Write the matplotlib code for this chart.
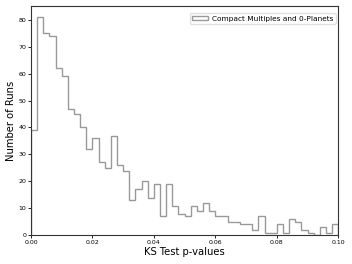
import matplotlib
matplotlib.use("Agg")
import matplotlib.pyplot as plt
import numpy as np

# histogram counts, 50 bins of width 0.002 on [0, 0.1]
bin_edges = np.linspace(0.0, 0.1, 51)
counts = [39, 81, 75, 74, 62, 59, 47, 45, 40, 32,
          36, 27, 25, 37, 26, 24, 13, 17, 20, 14,
          19, 7, 19, 11, 8, 7, 11, 9, 12, 9,
          7, 7, 5, 5, 4, 4, 2, 7, 1, 1,
          4, 1, 6, 5, 2, 1, 0, 3, 1, 4]
label = "Compact Multiples and 0-Planets"

fig = plt.figure(figsize=(3.52, 2.64), dpi=100)
ax = fig.add_axes([0.088, 0.109, 0.873, 0.868])

centers = (bin_edges[:-1] + bin_edges[1:]) / 2
ax.hist(centers, bins=bin_edges, weights=counts, histtype='step',
        color='0.6', linewidth=1.0, label=label)

ax.set_xlim(0, 0.1)
ax.set_xlabel('KS Test p-values', fontsize=7.2, labelpad=1.5)
ax.set_ylabel('Number of Runs', fontsize=7.2, labelpad=2)
ax.tick_params(labelsize=4.5, length=2, width=0.6, pad=1.2)
for s in ax.spines.values():
    s.set_linewidth(0.8)
    s.set_color('0.2')

ax.legend(loc='upper right', bbox_to_anchor=(0.991, 0.968), borderaxespad=0,
          fontsize=5.3, handlelength=2.2, handleheight=0.6, borderpad=0.3,
          handletextpad=0.5, framealpha=0.8, edgecolor='0.85')

fig.savefig('out.png', dpi=100)
